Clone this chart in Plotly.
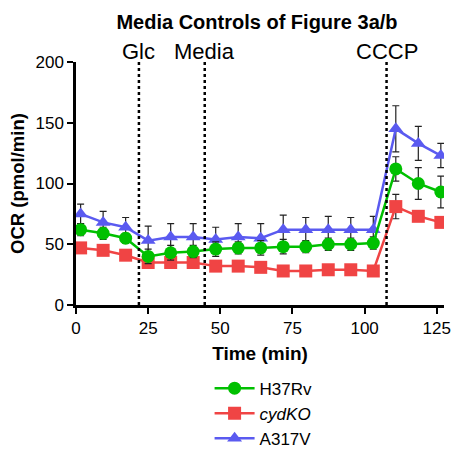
import plotly.graph_objects as go

time = [1.6, 9.4, 17.2, 25.0, 32.8, 40.6, 48.4, 56.2, 64.0, 71.8, 79.6, 87.4, 95.2, 103.0, 110.8, 118.6, 126.4]
h37rv = [62, 59, 55, 40, 43, 44, 46, 47, 47, 48, 48, 50, 50, 51, 112, 100, 93]
h37rv_err = [5, 5, 4, 6, 6, 5, 6, 5, 6, 6, 5, 5, 5, 5, 10, 13, 13]
cydko = [47, 45, 41, 35, 35, 35, 32, 32, 31, 28, 28, 29, 29, 28, 81, 73, 68]
cydko_err = [3, 3, 3, 3, 3, 3, 3, 3, 3, 3, 3, 3, 3, 3, 10, 4, 4]
a317v = [75, 68, 64, 53, 56, 56, 54, 56, 55, 62, 62, 62, 62, 62, 145, 133, 123]
a317v_err = [8, 9, 8, 12, 11, 11, 10, 11, 12, 12, 10, 11, 10, 11, 19, 14, 10]

events_x = [21.8, 44.6, 107.6]
events_label = ["Glc", "Media", "CCCP"]

FONT = "Liberation Sans, Arial, sans-serif"

fig = go.Figure()

series = [
    ("A317V", a317v, a317v_err, "#5a5af0", "triangle-up", 3),
    ("<i>cydKO</i>", cydko, cydko_err, "#f04444", "square", 2),
    ("H37Rv", h37rv, h37rv_err, "#00c000", "circle", 1),
]
for name, y, err, color, sym, rank in series:
    fig.add_trace(go.Scatter(
        x=time, y=y, name=name, mode="lines+markers",
        line=dict(color=color, width=2.5),
        marker=dict(symbol=sym, size=13, color=color),
        error_y=dict(type="data", array=err, visible=True, color="#222222", thickness=1.2, width=3.5),
        legendrank=rank,
    ))

for xv, lab in zip(events_x, events_label):
    fig.add_shape(type="line", xref="x", yref="y", x0=xv, x1=xv, y0=0, y1=200,
                  line=dict(color="black", width=2.5, dash="dot"))
    fig.add_annotation(x=xv, xref="x", y=1, yref="paper", yshift=11, text=lab,
                       showarrow=False, font=dict(family=FONT, size=22, color="black"),
                       yanchor="middle")

W = 452
H = 452
fig.update_layout(
    width=W, height=H,
    margin=dict(l=76, r=8, t=62, b=147, autoexpand=False),
    paper_bgcolor="white", plot_bgcolor="white",
    title=dict(text="<b>Media Controls of Figure 3a/b</b>", x=257 / W, xref="container",
               xanchor="center", y=1 - 22 / H, yref="container", yanchor="middle",
               font=dict(family=FONT, size=20, color="black")),
    font=dict(family=FONT, color="black"),
    showlegend=True,
    legend=dict(x=0.363, xanchor="left", y=-0.27, yanchor="top",
                font=dict(family=FONT, size=17, color="black"),
                bgcolor="rgba(0,0,0,0)", tracegroupgap=0, itemwidth=40),
    xaxis=dict(range=[0, 127.5], tickvals=[0, 25, 50, 75, 100, 125], showgrid=False, zeroline=False,
               showline=True, linecolor="black", linewidth=2.5, ticks="outside", ticklen=6,
               tickwidth=2, tickcolor="black", automargin=False, ticklabeloverflow="allow",
               tickfont=dict(family=FONT, size=17, color="black"),
               tickprefix="<b>", ticksuffix="</b>",
               title=dict(text="<b>Time (min)</b>", font=dict(family=FONT, size=19, color="black"), standoff=10)),
    yaxis=dict(range=[0, 200], tickvals=[0, 50, 100, 150, 200], showgrid=False, zeroline=False,
               showline=True, linecolor="black", linewidth=2.5, ticks="outside", ticklen=6,
               tickwidth=2, tickcolor="black", automargin=False,
               tickfont=dict(family=FONT, size=17, color="black"),
               tickprefix="<b>", ticksuffix="</b>",
               title=dict(text="<b>OCR (pmol/min)</b>", font=dict(family=FONT, size=18.5, color="black"), standoff=6)),
)

fig.write_html("out.html", config={"displayModeBar": False},
               post_script="document.body.style.margin='0';document.body.style.overflow='hidden';")
